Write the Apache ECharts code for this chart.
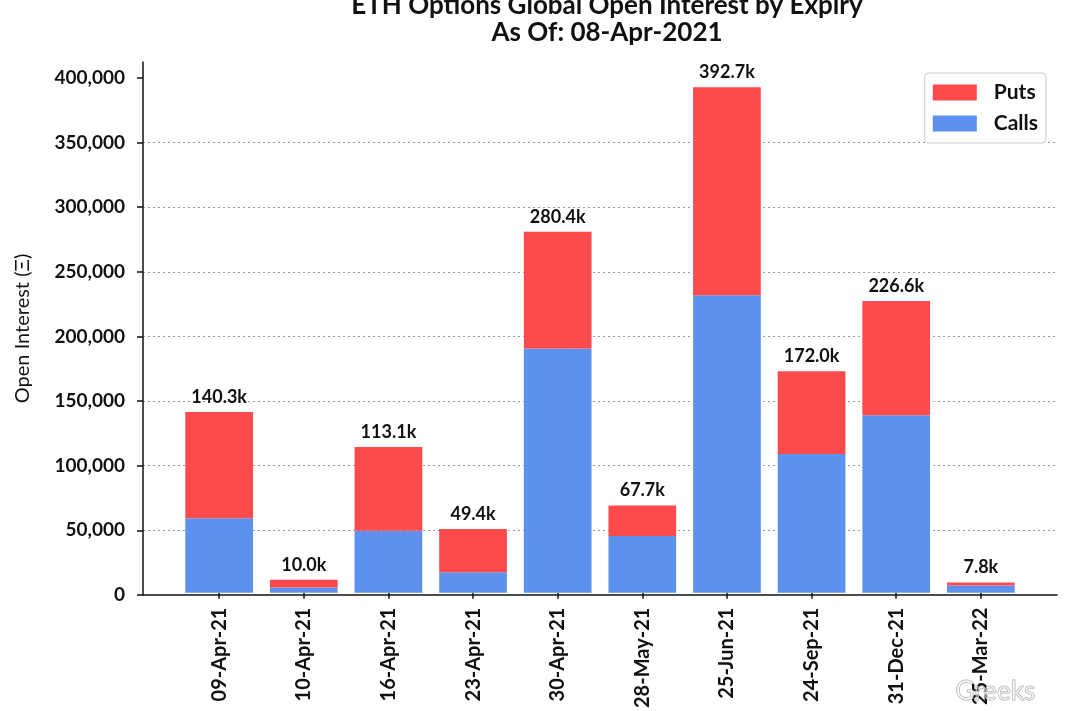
<!DOCTYPE html>
<html>
<head>
<meta charset="utf-8">
<script src="https://cdn.jsdelivr.net/npm/echarts@6/dist/echarts.min.js"></script>
<style>
html,body{margin:0;padding:0;background:#fff;}
#chart{width:1080px;height:711px;}
</style>
</head>
<body>
<div id="chart"></div>
<script>
// ---- data ----
const expiries = ['09-Apr-21','10-Apr-21','16-Apr-21','23-Apr-21','30-Apr-21','28-May-21','25-Jun-21','24-Sep-21','31-Dec-21','25-Mar-22'];
const calls = [57800, 4000, 48000, 15900, 189700, 44100, 231000, 107700, 137900, 5600];
const puts  = [82500, 6000, 65100, 33500, 90700, 23600, 161700, 64300, 88700, 2200];
const yTicks = [0, 50000, 100000, 150000, 200000, 250000, 300000, 350000, 400000];
const titleText = 'ETH Options Global Open Interest by Expiry\nAs Of: 08-Apr-2021';
const yName = 'Open Interest (Ξ)';

const FONT = 'Lato';
const chart = echarts.init(document.getElementById('chart'));

// layout: outer frame spans the category margins (0.9 band each side, as in the reference)
const G = {left: 143, right: 23, top: 62, bottom: 116};
const plotW = 1080 - G.left - G.right;
const band = plotW / (expiries.length + 0.8);
const inset = band * 0.4;
const YMAX = 412335;

chart.setOption({
  animation: false,
  backgroundColor: '#ffffff',
  title: {
    text: titleText,
    left: 602,
    textAlign: 'center',
    top: -13,
    textStyle: {fontFamily: FONT, fontSize: 26, fontWeight: 'bold', color: '#111', lineHeight: 27, align: 'center'}
  },
  legend: {
    orient: 'vertical',
    right: 34,
    top: 73,
    data: ['Puts', 'Calls'],
    itemWidth: 44,
    itemHeight: 16,
    itemGap: 10,
    icon: 'rect',
    borderColor: '#cccccc',
    borderWidth: 1,
    borderRadius: 4,
    padding: [9, 8, 9, 8],
    backgroundColor: '#fff',
    textStyle: {fontFamily: FONT, fontSize: 21, fontWeight: 'bold', color: '#111', padding: [0, 0, 0, 12], lineHeight: 19}
  },
  grid: [
    {left: G.left, right: G.right, top: G.top, bottom: G.bottom, containLabel: false},
    {left: G.left + inset, right: G.right + inset, top: G.top, bottom: G.bottom, containLabel: false}
  ],
  xAxis: [
    {
      gridIndex: 0,
      type: 'value',
      min: 0, max: 1,
      splitLine: {show: false},
      axisLine: {show: true, onZero: false, lineStyle: {color: '#111', width: 1.5}},
      axisTick: {show: false},
      axisLabel: {show: false}
    },
    {
      gridIndex: 1,
      type: 'category',
      data: expiries,
      boundaryGap: true,
      axisLine: {show: false},
      axisTick: {show: true, alignWithLabel: true, length: 6, lineStyle: {color: '#111', width: 1.5}},
      axisLabel: {
        interval: 0,
        rotate: 90,
        margin: 15,
        fontFamily: FONT, fontSize: 20, fontWeight: 'bold', color: '#111'
      },
      splitLine: {show: false}
    }
  ],
  yAxis: [
    {
      gridIndex: 0,
      type: 'value',
      min: 0,
      max: YMAX,
      interval: 50000,
      name: yName,
      nameLocation: 'middle',
      nameRotate: 90,
      nameGap: 110,
      nameTextStyle: {fontFamily: FONT, fontSize: 20, fontWeight: 'normal', color: '#111'},
      axisLine: {show: true, lineStyle: {color: '#111', width: 1.5}},
      axisTick: {show: true, customValues: yTicks, length: 6, lineStyle: {color: '#111', width: 1.5}},
      axisLabel: {
        customValues: yTicks,
        margin: 18,
        fontFamily: FONT, fontSize: 19, fontWeight: 'bold', color: '#111',
        formatter: v => Number(v).toLocaleString('en-US')
      },
      splitLine: {show: true, showMaxLine: false, showMinLine: false, lineStyle: {color: '#9a9a9a', width: 1.2, type: [2, 3]}}
    },
    {
      gridIndex: 1,
      type: 'value',
      min: 0,
      max: YMAX,
      show: false,
      splitLine: {show: false}
    }
  ],
  series: [
    {
      name: 'Calls',
      type: 'bar',
      stack: 'oi',
      xAxisIndex: 1,
      yAxisIndex: 1,
      barWidth: '80%',
      itemStyle: {color: '#5e91ee'},
      data: calls
    },
    {
      name: 'Puts',
      type: 'bar',
      stack: 'oi',
      xAxisIndex: 1,
      yAxisIndex: 1,
      barWidth: '80%',
      itemStyle: {color: '#fe4a4c'},
      label: {
        show: true,
        position: 'top',
        distance: 6,
        fontFamily: FONT, fontSize: 18, fontWeight: 'bold', color: '#111',
        formatter: p => ((calls[p.dataIndex] + puts[p.dataIndex]) / 1000).toFixed(1) + 'k'
      },
      data: puts
    }
  ],
  graphic: [
    {
      type: 'text',
      left: 955,
      top: 678,
      silent: true,
      z: 100,
      style: {text: 'Greeks', fontFamily: FONT, fontSize: 26, fill: 'rgba(255,255,255,0.4)', stroke: 'rgba(170,170,170,0.9)', lineWidth: 1}
    }
  ]
});
</script>
</body>
</html>
